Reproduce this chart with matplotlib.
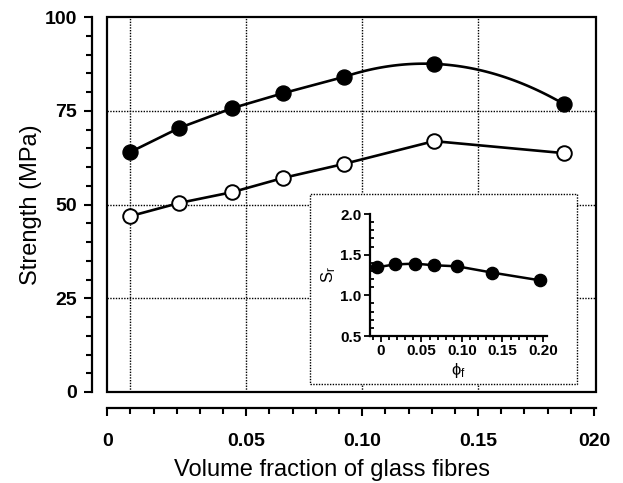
import matplotlib
matplotlib.use('Agg')
import matplotlib.pyplot as plt
import numpy as np
from matplotlib.patches import Rectangle
from matplotlib.ticker import MultipleLocator, FixedLocator

plt.rcParams['font.family'] = ['Liberation Sans', 'DejaVu Sans']
plt.rcParams['mathtext.fontset'] = 'custom'
plt.rcParams['mathtext.rm'] = 'Liberation Sans'
plt.rcParams['mathtext.it'] = 'Liberation Sans'

# main plot data
vol_frac = [0.0, 0.021, 0.044, 0.066, 0.092, 0.131, 0.187]
strength_filled = [64.0, 70.4, 75.7, 79.7, 84.0, 87.5, 76.8]
strength_open = [46.9, 50.4, 53.3, 57.1, 60.8, 66.9, 63.7]

# inset data
phi_f = [-0.005, 0.017, 0.042, 0.065, 0.094, 0.137, 0.196]
s_r = [1.345, 1.38, 1.39, 1.37, 1.357, 1.28, 1.185]

x_ticks = [-0.01, 0.05, 0.10, 0.15, 0.20]
x_ticklabels = ['0', '0.05', '0.10', '0.15', '020']
inset_xticks = [0, 0.05, 0.10, 0.15, 0.20]
inset_xticklabels = ['0', '0.05', '0.10', '0.15', '0.20']

W, H = 623, 483
fig = plt.figure(figsize=(W / 100, H / 100), dpi=100)


def px_rect(x0, y0, x1, y1):
    # pixel box (top-left origin) -> figure fraction
    return [x0 / W, (H - y1) / H, (x1 - x0) / W, (y1 - y0) / H]


ax = fig.add_axes(px_rect(107, 17, 596, 392))
ax.set_xlim(-0.0101, 0.2009)
ax.set_ylim(0, 100)

for s in ['top', 'right']:
    ax.spines[s].set_visible(False)
ax.spines['left'].set_position(('outward', 10.8))
ax.spines['bottom'].set_position(('outward', 11.5))
for s in ['left', 'bottom']:
    ax.spines[s].set_linewidth(1.6)
ax.add_patch(Rectangle((0, 0), 1, 1, transform=ax.transAxes, fill=False,
                       lw=1.6, ec='black', clip_on=False, zorder=5))

# dotted grid
for gx in [0.0, 0.05, 0.10, 0.15]:
    ax.axvline(gx, color='black', lw=1.0, ls=(0, (1, 1)), zorder=1)
for gy in [25, 50, 75]:
    ax.axhline(gy, color='black', lw=1.0, ls=(0, (1, 1)), zorder=1)

# filled series: straight segments then smooth curve over the last three points
coef = np.polyfit(vol_frac[4:], strength_filled[4:], 2)
xs = np.linspace(vol_frac[4], vol_frac[6], 80)
line_x = list(vol_frac[:4]) + list(xs)
line_y = list(strength_filled[:4]) + list(np.polyval(coef, xs))
ax.plot(line_x, line_y, color='black', lw=1.9, zorder=3)
ax.plot(vol_frac, strength_filled, 'o', ms=10.8, color='black', zorder=4)
ax.plot(vol_frac, strength_open, '-o', ms=10.5, color='black', lw=1.9,
        mfc='white', mec='black', mew=1.4, zorder=4)

ax.xaxis.set_major_locator(FixedLocator(x_ticks))
ax.set_xticklabels(x_ticklabels)
ax.xaxis.set_minor_locator(MultipleLocator(0.01))
ax.yaxis.set_major_locator(MultipleLocator(25))
ax.yaxis.set_minor_locator(MultipleLocator(5))
ax.tick_params(axis='both', which='major', length=6, width=1.5, labelsize=14)
ax.tick_params(axis='both', which='minor', length=4.5, width=1.5)
ax.tick_params(axis='x', which='major', pad=12)
ax.tick_params(axis='y', which='major', pad=5)
for lab in ax.get_xticklabels() + ax.get_yticklabels():
    lab.set_fontweight('bold')

ax.set_xlabel('Volume fraction of glass fibres', fontsize=17)
ax.xaxis.set_label_coords(0.46, -0.179)
ax.set_ylabel('Strength (MPa)', fontsize=17, labelpad=2)

# inset frame
frame = fig.add_axes(px_rect(310, 194, 577, 384), zorder=6)
frame.set_facecolor('white')
frame.set_xticks([])
frame.set_yticks([])
for s in frame.spines.values():
    s.set_visible(False)
frame.add_patch(Rectangle((0, 0), 1, 1, transform=frame.transAxes, fill=False,
                          lw=1.0, ls=(0, (1, 1)), ec='black', clip_on=False))

# inset axes
ins = fig.add_axes(px_rect(370, 214, 547, 336), zorder=7)
ins.patch.set_alpha(0)
ins.set_xlim(-0.0136, 0.205)
ins.set_ylim(0.5, 2.0)
for s in ['top', 'right']:
    ins.spines[s].set_visible(False)
for s in ['left', 'bottom']:
    ins.spines[s].set_linewidth(1.6)
ins.plot(phi_f, s_r, '-o', color='black', lw=1.8, ms=8.8)
ins.xaxis.set_major_locator(FixedLocator(inset_xticks))
ins.set_xticklabels(inset_xticklabels)
ins.xaxis.set_minor_locator(MultipleLocator(0.01))
ins.yaxis.set_major_locator(MultipleLocator(0.5))
ins.yaxis.set_minor_locator(MultipleLocator(0.1))
ins.tick_params(axis='both', which='major', length=4, width=1.3, labelsize=11, pad=2)
ins.tick_params(axis='both', which='minor', length=3, width=1.3)
ins.tick_params(axis='y', which='minor', direction='in')
for lab in ins.get_xticklabels() + ins.get_yticklabels():
    lab.set_fontweight('bold')
ins.set_xlabel(r'$\phi_\mathrm{f}$', fontsize=12, labelpad=2)
ins.set_ylabel(r'$S_\mathrm{r}$', fontsize=12, labelpad=2)

fig.savefig('out.png', dpi=100)
